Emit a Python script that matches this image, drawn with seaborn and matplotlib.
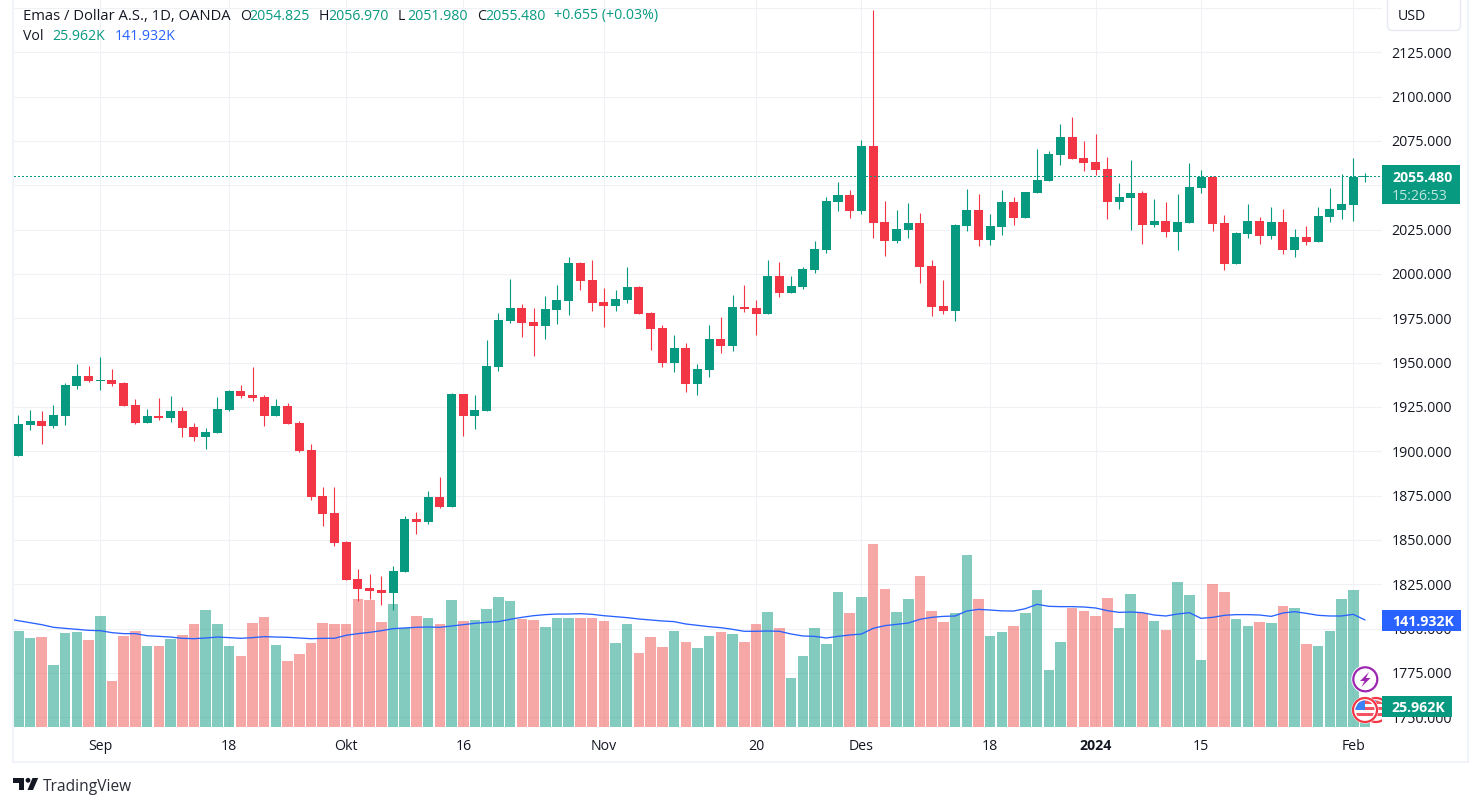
import matplotlib
matplotlib.use("Agg")
import matplotlib.pyplot as plt
from matplotlib.patches import Rectangle, Circle, Polygon, FancyBboxPatch
import numpy as np
import pandas as pd
import seaborn as sns

opens = [1897.2,1914.7,1916.9,1914.1,1919.7,1936.7,1942.3,1939.7,1940,1938.3,
 1925.9,1915.8,1919.7,1918.6,1922.6,1913.5,1907.9,1910.2,1923.1,1933.8,
 1931.6,1930.5,1919.7,1925.4,1915.8,1900.6,1874.6,1865,1848.7,1827.8,
 1822.7,1821.6,1819.9,1831.8,1861.7,1860,1874.1,1868.4,1932.1,1919.7,
 1922.9,1947.7,1973.7,1981,1973.1,1970.9,1979.9,1985,2006.4,1996.8,
 1984.4,1982.1,1985.5,1992.9,1978.2,1969.7,1950,1958.5,1938.2,1946.1,
 1963.5,1959.6,1981.6,1981,1977.6,1999.1,1989.5,1992.9,2002.4,2013.5,
 2040.6,2044.5,2035.5,2072.2,2029.3,2018.6,2024.8,2028.8,2004.5,1982,
 1979.1,2027.1,2036.1,2019.2,2026.5,2040.6,2031.6,2045.7,2052.4,2067.1,
 2077.3,2065.4,2063.2,2059.2,2040.6,2042.9,2045.7,2027.4,2029.7,2023.5,
 2028.6,2048.3,2054.5,2028.6,2005.5,2022.4,2029.7,2021.2,2029.1,2013.3,
 2020.7,2017.9,2032,2035.9,2038.7,2054.825]
highs = [1920.3,1923.1,1922.6,1925.9,1938.3,1949.1,1947.9,1953,1946.2,1938.9,
 1929.3,1923.7,1929.9,1931,1924.8,1915.8,1913,1930.5,1934.4,1937.2,
 1947.4,1931.6,1929.3,1927.1,1916.9,1903.9,1879.7,1879.7,1849.2,1833.5,
 1830.6,1829.5,1835.2,1863.3,1865.6,1877.4,1885.3,1932.7,1932.1,1931.6,
 1963,1978.2,1997.4,1983.3,1981,1987.8,1994,2009.8,2007,2008.1,
 1992.3,1991.2,2004.1,1993.4,1978.8,1971.4,1965.8,1961.3,1949.4,1971.4,
 1975.9,1988.3,1994,1985.5,2008.1,2007,1999.1,2004.1,2018.8,2043.4,
 2051.9,2047.4,2075.6,2148.9,2041.2,2036.1,2040,2034.4,2007.9,1996.6,
 2028.2,2047.9,2045.1,2033.8,2047.4,2043.4,2046.2,2070.5,2069.4,2084.6,
 2088.5,2075,2078.9,2066,2051.3,2064.3,2046.8,2042.1,2040.4,2044.9,
 2062.4,2058.5,2055,2033.1,2023.5,2039.3,2032,2037.6,2036.5,2025.2,
 2026.9,2037.6,2048.3,2056.2,2065.2,2056.97]
lows = [1897.2,1911.8,1903.9,1913,1914.7,1935,1938.9,1934.4,1936.7,1925.4,
 1915.2,1915.8,1917.5,1916.4,1907.9,1905.6,1901.1,1910.2,1922.6,1929.9,
 1928.2,1914.1,1919.7,1915.2,1899.4,1872.4,1857.7,1846.4,1827.3,1815.4,
 1816.5,1813.2,1810.3,1831.8,1853.2,1858.8,1867.9,1868.4,1908.5,1912.4,
 1922.9,1945.5,1972.6,1964.7,1953.9,1963.5,1972,1977.1,1991.2,1979.3,
 1970.3,1979.3,1983.8,1977.6,1957.3,1947.7,1944.9,1933.6,1932,1942.1,
 1955.6,1956.8,1978.8,1965.8,1977.6,1987.2,1989.5,1991.7,2000.8,2011.8,
 2035.5,2031.6,2033.8,2020.3,2010.2,2017.5,2020.3,1994.9,1976.3,1977.4,
 1973.5,2024.2,2015.8,2016.4,2022,2027.6,2031.6,2045.7,2052.4,2061.5,
 2064.8,2058.1,2055.8,2031,2036.7,2024.8,2016.9,2026.3,2020.7,2013.3,
 2028.6,2045.5,2024.1,2002.1,2005.5,2020.1,2016.7,2019.5,2011.1,2009.4,
 2016.2,2017.9,2029.1,2030.8,2029.7,2051.98]
closes = [1915.2,1916.9,1914.1,1920.3,1937.2,1942.3,1939.5,1940,1937.8,1925.4,
 1915.8,1919.7,1918.6,1922.6,1913,1907.9,1910.7,1923.7,1933.8,1931,
 1929.9,1919.7,1925.4,1915.2,1900,1874.1,1864.5,1848.1,1827.3,1822.2,
 1821.1,1819.9,1832.3,1861.7,1860,1874.1,1868.4,1932.1,1919.7,1923.1,
 1948.3,1974.2,1981,1972.6,1970.9,1980.5,1985.5,2006.4,1996.2,1983.8,
 1982.1,1986.1,1992.9,1977.6,1969.2,1950,1958.5,1938.2,1946.6,1963.5,
 1959.6,1981.6,1980.5,1977.6,1999.1,1989.5,1993.4,2003,2014.3,2041.2,
 2044.5,2035.5,2072.2,2028.8,2018.6,2025.4,2028.8,2004,1981.4,1979.1,
 2027.6,2036.1,2019.2,2027.1,2040.6,2031.6,2046.2,2053,2067.7,2077.3,
 2064.8,2062.6,2058.6,2040.6,2043.4,2045.7,2027.6,2029.7,2023.5,2029.1,
 2048.9,2054.5,2028,2005.5,2022.9,2029.7,2021.2,2029.1,2013.3,2020.7,
 2017.9,2032.5,2036.5,2039.3,2054.5,2055.48]
volumes = [127.3,118,119.3,82.2,124.6,126,115.4,147.2,61,120.7,
 127.3,107.4,107.4,116.7,122,136.6,155.1,136.6,107.4,94.1,
 137.9,145.9,108.7,87.5,96.8,111.4,137.9,136.6,136.6,169.7,
 168.4,139.2,163.1,131.3,147.2,144.5,136.6,168.4,140.6,141.9,
 156.5,172.4,167.1,143.2,141.9,132.6,144.5,144.5,144.5,144.5,
 140.6,111.4,136.6,98.1,119.3,106.1,127.3,112.7,104.8,120.7,
 126,123.3,112.7,136.6,152.5,131.3,65,94.1,131.3,110.1,
 179,151.2,172.4,242.7,183,152.5,169.7,200.2,153.8,139.2,
 151.2,228.1,169.7,120.7,126,133.9,151.2,181.7,75.6,112.7,
 157.8,153.8,147.2,171,131.3,176.4,151.2,140.6,128.6,192.3,
 175,88.8,189.6,179,143.2,133.9,139.2,137.9,160.4,157.8,
 110.1,107.4,127.3,169.7,181.7,25.962]
vol_ma = [141,138.3,135.7,132.2,130.8,129.5,128.2,127.7,125.1,123.8,
 123.8,121.1,120.2,119.3,117.6,117.1,118,119.3,118.5,117.6,
 118.5,119.8,119.3,118.9,118,117.1,117.6,117.6,121.6,123.8,
 125.5,127.7,130.4,131.3,132.2,132.6,132.2,133.9,135.7,137.5,
 138.8,139.7,142.8,145.4,147.6,149,149.8,149.8,150.3,149.4,
 147.6,146.3,145,143.2,141.9,140.6,139.7,136.6,134.8,133,
 131.7,129.5,126.9,126.9,127.3,126.9,123.3,120.7,120.2,118,
 120.2,122,123.3,130.8,134.4,136.1,137.9,142.8,145.4,146.7,
 147.2,153.8,156,155.1,154,153.8,156.9,162.7,160,159.6,
 159.6,159.1,157.8,154.3,152,152.5,151.6,148.5,147.2,149.8,
 151.6,144.1,145.4,148.1,149,149,148.5,146.7,151.2,152.9,
 150.7,148.1,147.2,147.2,149.4,141.932]
vol_ma_before_first = 143.5
time_tick_pos = [7, 18, 28, 38, 50, 63, 72, 83, 92, 101, 114]
time_tick_labels = ["Sep", "18", "Okt", "16", "Nov", "20", "Des", "18", "2024", "15", "Feb"]
price_ticks = list(range(1750, 2151, 25))
unlabelled_prices = [2050, 2150]
last_price = 2055.48

W, H = 1480, 806
FONT = "Open Sans"
GREEN, RED = "#089981", "#F23645"
VOL_RED = "#EF5350"
GRID = "#F0F1F5"
STRIP = "#F0F3FA"
TXT = "#131722"

sns.set_theme(style="white")
plt.rcParams["font.family"] = [FONT, "DejaVu Sans"]

df = pd.DataFrame({"i": range(len(opens)), "o": opens, "h": highs, "l": lows, "c": closes,
                   "vol": volumes, "ma": vol_ma})
df["up"] = df.c >= df.o
idx = df.i.to_numpy()

fig = plt.figure(figsize=(W / 100, H / 100), dpi=100, facecolor="white")
L, R, T, B = 14, 1381.5, 0, 727
rect = [L / W, 1 - B / H, (R - L) / W, (B - T) / H]
xlim = ((L - 18.3) / 11.71, (R - 18.3) / 11.71)
pmax = 2125 + (52.3 - T) / 1.7733
pmin = 2125 - (B - 52.3) / 1.7733

ax_grid = fig.add_axes(rect, zorder=0)
ax_vol = fig.add_axes(rect, zorder=1)
ax_c = fig.add_axes(rect, zorder=2)

# grid + axes labels
ax_grid.set_xlim(*xlim)
ax_grid.set_ylim(pmin, pmax)
ax_grid.yaxis.tick_right()
ax_grid.set_yticks(price_ticks)
ax_grid.set_yticklabels(["" if p in unlabelled_prices else f"{p}.000" for p in price_ticks],
                        fontsize=10.2, color=TXT)
ax_grid.set_xticks(time_tick_pos)
ax_grid.set_xticklabels(time_tick_labels, fontsize=10.2, color=TXT)
ax_grid.tick_params(axis="both", length=0)
ax_grid.tick_params(axis="y", pad=7.2)
ax_grid.tick_params(axis="x", pad=8.6)
for lab in ax_grid.get_xticklabels():
    if lab.get_text() == "2024":
        lab.set_fontweight("bold")
ax_grid.grid(True, color=GRID, lw=0.8)
for s in ax_grid.spines.values():
    s.set_visible(False)

# volume
df["dir"] = np.where(df.up, "up", "down")
sns.barplot(data=df, x="i", y="vol", hue="dir", palette={"up": GREEN, "down": VOL_RED},
            native_scale=True, dodge=False, width=0.9, alpha=0.5, saturation=1,
            linewidth=0, legend=False, ax=ax_vol)
sns.lineplot(x=np.r_[-1, idx], y=np.r_[vol_ma_before_first, df.ma], color="#2962FF", lw=0.95,
             ax=ax_vol, legend=False)
ax_vol.set_xlim(*xlim)
ax_vol.set_ylim(0, B * 1.326)
ax_vol.axis("off")

# candles
ax_c.set_xlim(*xlim)
ax_c.set_ylim(pmin, pmax)
colors = [GREEN if u else RED for u in df.up]
ax_c.vlines(idx, df.l, df.h, colors=colors, lw=0.8, zorder=2)
ax_c.bar(idx, np.abs(df.c - df.o).clip(lower=0.4), bottom=np.minimum(df.o, df.c),
         width=0.77, color=colors, linewidth=0, zorder=3)
ax_c.axhline(last_price, color=GREEN, lw=0.8, ls=(0, (1, 2.4)), antialiased=False, zorder=4)
ax_c.axis("off")

# overlay in pixel coordinates
ov = fig.add_axes([0, 0, 1, 1], zorder=5)
ov.set_xlim(0, W)
ov.set_ylim(H, 0)
ov.axis("off")
ov.patch.set_alpha(0)

for r in [(12, 0, 2, 763), (12, 761.3, 1457, 2), (1467, 0, 2, 763)]:
    ov.add_patch(Rectangle((r[0], r[1]), r[2], r[3], fc=STRIP, ec="none"))

# USD box
ov.add_patch(FancyBboxPatch((1387.5, -6), 73, 36.5, boxstyle="round,pad=0,rounding_size=5",
                            fc="white", ec="#E6E9F2", lw=1.0))


def t(x, y, s, c=TXT, **kw):
    ov.text(x, y, s, color=c, fontsize=kw.pop("fontsize", 10.2), va="center_baseline", ha="left", **kw)


t(1398, 15, "USD")

# header
t(23, 14, "Emas / Dollar A.S., 1D, OANDA", fontsize=10.6)
for x, s, c in [(240, "O", TXT), (249, "2054.825", GREEN), (319, "H", TXT), (328, "2056.970", GREEN),
                (398, "L", TXT), (407, "2051.980", GREEN), (477, "C", TXT), (485, "2055.480", GREEN),
                (554, "+0.655 (+0.03%)", GREEN)]:
    t(x, 14, s, c)
t(23, 34, "Vol")
t(52, 34, "25.962K", GREEN)
t(115, 34, "141.932K", "#2962FF")

# icons
ov.add_patch(Circle((1365.3, 679.3), 14, fc="white", ec="none"))
ov.add_patch(Circle((1365.3, 679.3), 12, fc="white", ec="#9C27B0", lw=1.6))
ov.add_patch(Polygon([(1369, 672), (1360, 681), (1364.5, 681), (1361.5, 687), (1370.5, 678), (1366, 678)],
                     fc="#9C27B0", ec="none"))


def flag(cx, cy):
    ov.add_patch(Circle((cx, cy), 13.5, fc="white", ec="none"))
    ring = Circle((cx, cy), 12, fc="white", ec=RED, lw=1.6)
    ov.add_patch(ring)
    clip = Circle((cx, cy), 9.5, transform=ov.transData)
    for yy in (-9.6, -3.2, 3.2):
        p = Rectangle((cx - 10, cy + yy), 20, 3.2, fc=RED, ec="none", alpha=0.85)
        ov.add_patch(p)
        p.set_clip_path(clip)
    c = Rectangle((cx - 10, cy - 10), 10, 10, fc="#3B82F6", ec="none")
    ov.add_patch(c)
    c.set_clip_path(clip)


flag(1376, 710)
flag(1365, 710)
# the pane ends at its right edge, so the second icon is cut off there
ov.add_patch(Rectangle((1382, 716), 9.5, 11, fc="white", ec="none"))

# right-hand labels
ov.add_patch(Rectangle((1382, 164.7), 78, 39.3, fc=GREEN, ec="none"))
t(1392, 176, "2055.480", "white", fontweight="bold")
t(1392, 194, "15:26:53", "#BFE5DE")
ov.add_patch(Rectangle((1382, 610), 79, 20.7, fc="#2962FF", ec="none"))
t(1392, 620.5, "141.932K", "white", fontweight="bold")
ov.add_patch(Rectangle((1382, 696), 70, 20.7, fc=GREEN, ec="none"))
t(1391, 706.5, "25.962K", "white", fontweight="bold")

# TradingView logo
ov.add_patch(Polygon([(13, 778), (24, 778), (24, 790), (18.5, 790), (18.5, 782.5), (13, 782.5)], fc=TXT, ec="none"))
ov.add_patch(Circle((28, 780.3), 2.4, fc=TXT, ec="none"))
ov.add_patch(Polygon([(32.5, 778), (38.2, 778), (33, 790), (27.5, 790)], fc=TXT, ec="none"))
t(43, 785, "TradingView", fontsize=11.2, alpha=0.9)

fig.savefig("out.png", dpi=100)
